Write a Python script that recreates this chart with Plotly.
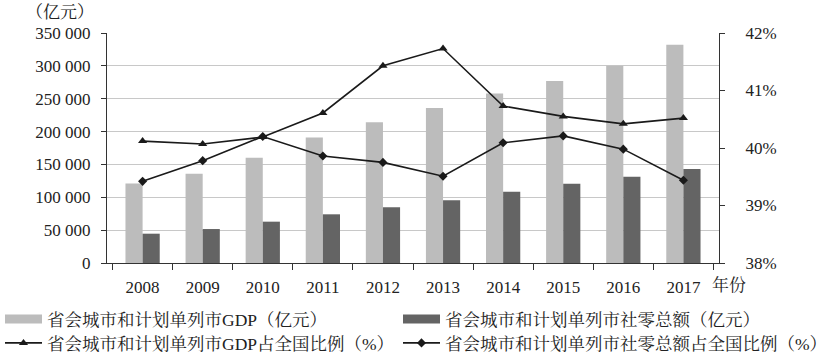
import plotly.graph_objects as go

years = ["2008", "2009", "2010", "2011", "2012", "2013", "2014", "2015", "2016", "2017"]
gdp = [121000, 136000, 160000, 191000, 214000, 236000, 258000, 277000, 300000, 332000]
retail = [44600, 51700, 62900, 74100, 84700, 95400, 108500, 120700, 131300, 143000]
gdp_pct = [40.12, 40.07, 40.19, 40.61, 41.43, 41.73, 40.73, 40.55, 40.42, 40.52]
retail_pct = [39.42, 39.78, 40.20, 39.86, 39.75, 39.51, 40.09, 40.21, 39.98, 39.44]

names = [
    "省会城市和计划单列市GDP（亿元）",
    "省会城市和计划单列市社零总额（亿元）",
    "省会城市和计划单列市GDP占全国比例（%）",
    "省会城市和计划单列市社零总额占全国比例（%）",
]

LIGHT = "#bcbcbc"
DARK = "#646464"
LINE = "#1a1a1a"
FONT = "Liberation Serif, Noto Serif CJK SC, Noto Sans CJK SC"
fs = 17
W, H = 828, 355

fig = go.Figure()
fig.add_bar(x=years, y=gdp, marker_color=LIGHT, marker_line_width=0, showlegend=False, name=names[0])
fig.add_bar(x=years, y=retail, marker_color=DARK, marker_line_width=0, showlegend=False, name=names[1])
fig.add_scatter(x=years, y=gdp_pct, yaxis="y2", mode="lines+markers", name=names[2],
                line=dict(color=LINE, width=1.6),
                marker=dict(symbol="triangle-up", size=8, color=LINE), legend="legend3")
fig.add_scatter(x=years, y=retail_pct, yaxis="y2", mode="lines+markers", name=names[3],
                line=dict(color=LINE, width=1.6),
                marker=dict(symbol="diamond", size=7, color=LINE), legend="legend4")
# legend proxies for bars (wide rectangles)
fig.add_scatter(x=[None], y=[None], mode="lines", name=names[0],
                line=dict(color=LIGHT, width=9), legend="legend")
fig.add_scatter(x=[None], y=[None], mode="lines", name=names[1],
                line=dict(color=DARK, width=9), legend="legend2")


def leg(px, py):
    return dict(orientation="h", xref="container", yref="container",
                x=px / W, xanchor="left", y=1 - py / H, yanchor="middle",
                itemwidth=37, bgcolor="rgba(0,0,0,0)", font=dict(size=17.5),
                borderwidth=0)


grid = "#c8c8c8"
fig.update_layout(
    width=W, height=H,
    margin=dict(l=107, r=109, t=33, b=92, autoexpand=False),
    paper_bgcolor="white", plot_bgcolor="white",
    font=dict(family=FONT, size=fs, color="#222"),
    separators=". ",
    barmode="group", bargap=0.43, bargroupgap=0,
    xaxis=dict(showline=True, linecolor="#333", linewidth=1, ticks="outside", ticklen=6,
               tickcolor="#333", tickson="boundaries", showgrid=False,
               ticklabelstandoff=9, tickfont=dict(size=fs), fixedrange=True),
    yaxis=dict(range=[0, 350000], dtick=50000, tickformat=",d", showline=True,
               linecolor="#333", linewidth=1, ticks="outside", ticklen=5, tickcolor="#333",
               showgrid=True, gridcolor=grid, gridwidth=1, zeroline=False,
               ticklabelstandoff=7, tickfont=dict(size=fs)),
    yaxis2=dict(range=[38, 42], dtick=1, ticksuffix="%", overlaying="y", side="right",
                showline=True, linecolor="#333", linewidth=1, ticks="outside", ticklen=5,
                tickcolor="#333", showgrid=False, zeroline=False, ticklabelstandoff=17,
                tickfont=dict(size=fs)),
    legend=leg(0, 319),
    legend2=leg(398, 319),
    legend3=leg(0, 343),
    legend4=leg(398, 343),
    annotations=[
        dict(text="（亿元）", xref="paper", yref="paper", x=(96 - 107) / 612, y=1.0, yshift=21,
             xanchor="right", yanchor="middle", showarrow=False, font=dict(size=fs)),
        dict(text="年份", xref="paper", yref="paper", x=1.0, y=0, yshift=-22, xshift=-9,
             xanchor="left", yanchor="middle", showarrow=False, font=dict(size=fs)),
    ],
)

fig.write_html("out.html", config={"displayModeBar": False},
               post_script="document.body.style.margin='0';document.body.style.padding='0';")
